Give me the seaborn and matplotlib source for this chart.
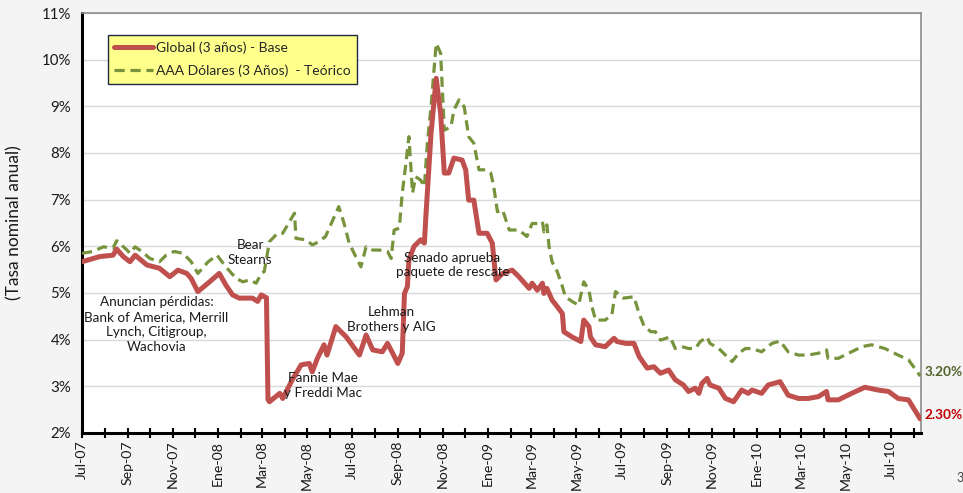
import matplotlib
matplotlib.use("Agg")
import matplotlib.pyplot as plt
import matplotlib.dates as mdates
from matplotlib.ticker import FuncFormatter, MultipleLocator
import pandas as pd
import seaborn as sns

# ---------------- data ----------------
global_dates = [
    "2007-07-01", "2007-07-25", "2007-08-12", "2007-08-17", "2007-08-26", "2007-09-04", "2007-09-11",
    "2007-09-27", "2007-10-14", "2007-10-28", "2007-11-08", "2007-11-20", "2007-11-26", "2007-12-05",
    "2007-12-21", "2008-01-03", "2008-01-12", "2008-01-21", "2008-01-30", "2008-02-17", "2008-02-24",
    "2008-02-29", "2008-03-04", "2008-03-07", "2008-03-09", "2008-03-11", "2008-03-25", "2008-03-29",
    "2008-04-11", "2008-04-23", "2008-05-04", "2008-05-08", "2008-05-15", "2008-05-24", "2008-05-28",
    "2008-06-09", "2008-06-23", "2008-07-11", "2008-07-20", "2008-07-29", "2008-08-11", "2008-08-18",
    "2008-08-25", "2008-09-01", "2008-09-07", "2008-09-10", "2008-09-14", "2008-09-16", "2008-09-23",
    "2008-10-02", "2008-10-07", "2008-10-09", "2008-10-16", "2008-10-23", "2008-10-29", "2008-11-03",
    "2008-11-09", "2008-11-16", "2008-11-27", "2008-12-02", "2008-12-06", "2008-12-13", "2008-12-20",
    "2008-12-31", "2009-01-07", "2009-01-12", "2009-01-21", "2009-02-03", "2009-02-12", "2009-02-26",
    "2009-03-02", "2009-03-09", "2009-03-16", "2009-03-18", "2009-03-22", "2009-03-29", "2009-04-05",
    "2009-04-12", "2009-04-14", "2009-04-25", "2009-05-07", "2009-05-11", "2009-05-18", "2009-05-20",
    "2009-05-27", "2009-06-09", "2009-06-21", "2009-06-25", "2009-07-07", "2009-07-18", "2009-07-25",
    "2009-08-05", "2009-08-14", "2009-08-23", "2009-09-03", "2009-09-12", "2009-09-23", "2009-09-30",
    "2009-10-09", "2009-10-14", "2009-10-18", "2009-10-25", "2009-10-29", "2009-11-10", "2009-11-19",
    "2009-11-30", "2009-12-11", "2009-12-20", "2009-12-25", "2010-01-07", "2010-01-16", "2010-02-01",
    "2010-02-12", "2010-02-26", "2010-03-11", "2010-03-25", "2010-04-05", "2010-04-07", "2010-04-21",
    "2010-04-30", "2010-05-09", "2010-05-27", "2010-06-14", "2010-06-28", "2010-07-11", "2010-07-25",
    "2010-08-10",
]
global_vals = [
    5.67, 5.78, 5.81, 5.94, 5.78, 5.67, 5.81,
    5.60, 5.53, 5.35, 5.49, 5.42, 5.31, 5.03,
    5.24, 5.42, 5.17, 4.96, 4.89, 4.89, 4.82,
    4.96, 4.92, 4.90, 2.72, 2.67, 2.85, 2.74,
    3.14, 3.46, 3.49, 3.31, 3.60, 3.89, 3.67,
    4.28, 4.06, 3.67, 4.10, 3.78, 3.74, 3.92,
    3.71, 3.49, 3.71, 4.99, 5.14, 5.71, 6.00,
    6.14, 6.07, 6.64, 8.42, 9.60, 8.85, 7.57,
    7.57, 7.89, 7.85, 7.64, 6.99, 6.99, 6.28,
    6.28, 6.07, 5.28, 5.42, 5.49, 5.35, 5.10,
    5.21, 5.06, 5.21, 4.99, 5.10, 4.85, 4.71,
    4.56, 4.17, 4.06, 3.96, 4.42, 4.28, 4.06,
    3.89, 3.85, 4.03, 3.96, 3.92, 3.92, 3.64,
    3.39, 3.42, 3.28, 3.35, 3.14, 3.03, 2.89,
    2.96, 2.85, 3.06, 3.17, 3.03, 2.96, 2.74,
    2.67, 2.92, 2.85, 2.92, 2.85, 3.03, 3.10,
    2.81, 2.74, 2.74, 2.78, 2.89, 2.71, 2.71,
    2.78, 2.85, 2.98, 2.92, 2.89, 2.74, 2.71,
    2.30,
]

aaa_dates = [
    "2007-07-01", "2007-07-16", "2007-07-30", "2007-08-12", "2007-08-17", "2007-08-31", "2007-09-04",
    "2007-09-11", "2007-09-20", "2007-10-01", "2007-10-14", "2007-10-23", "2007-11-03", "2007-11-15",
    "2007-11-26", "2007-12-05", "2007-12-19", "2007-12-31", "2008-01-12", "2008-01-26", "2008-02-04",
    "2008-02-13", "2008-02-22", "2008-02-29", "2008-03-04", "2008-03-11", "2008-03-22", "2008-03-29",
    "2008-04-14", "2008-04-16", "2008-04-30", "2008-05-08", "2008-05-17", "2008-05-26", "2008-05-31",
    "2008-06-13", "2008-06-20", "2008-06-27", "2008-07-06", "2008-07-13", "2008-07-20", "2008-07-29",
    "2008-08-07", "2008-08-18", "2008-08-23", "2008-08-27", "2008-09-03", "2008-09-07", "2008-09-12",
    "2008-09-16", "2008-09-21", "2008-09-25", "2008-10-02", "2008-10-07", "2008-10-11", "2008-10-16",
    "2008-10-23", "2008-10-29", "2008-11-03", "2008-11-12", "2008-11-16", "2008-11-23", "2008-11-30",
    "2008-12-06", "2008-12-13", "2008-12-20", "2008-12-29", "2009-01-05", "2009-01-09", "2009-01-14",
    "2009-01-21", "2009-01-30", "2009-02-12", "2009-02-23", "2009-03-02", "2009-03-11", "2009-03-16",
    "2009-03-18", "2009-03-22", "2009-03-25", "2009-03-29", "2009-04-05", "2009-04-12", "2009-04-16",
    "2009-04-25", "2009-05-04", "2009-05-11", "2009-05-18", "2009-05-22", "2009-05-27", "2009-06-09",
    "2009-06-18", "2009-06-23", "2009-07-04", "2009-07-18", "2009-07-25", "2009-08-01", "2009-08-10",
    "2009-08-16", "2009-08-23", "2009-09-05", "2009-09-12", "2009-09-21", "2009-09-30", "2009-10-09",
    "2009-10-16", "2009-10-25", "2009-10-29", "2009-11-10", "2009-11-21", "2009-11-28", "2009-12-07",
    "2009-12-16", "2009-12-25", "2010-01-07", "2010-01-21", "2010-02-01", "2010-02-12", "2010-02-26",
    "2010-03-11", "2010-03-25", "2010-04-05", "2010-04-07", "2010-04-21", "2010-05-05", "2010-05-23",
    "2010-06-05", "2010-06-23", "2010-07-11", "2010-07-25", "2010-08-10",
]
aaa_vals = [
    5.85, 5.89, 5.99, 5.96, 6.12, 5.92, 5.85,
    5.99, 5.89, 5.74, 5.67, 5.81, 5.89, 5.85,
    5.67, 5.42, 5.67, 5.81, 5.56, 5.31, 5.24,
    5.28, 5.21, 5.42, 5.46, 6.10, 6.28, 6.28,
    6.71, 6.17, 6.14, 6.03, 6.10, 6.21, 6.39,
    6.85, 6.50, 6.07, 5.78, 5.56, 5.99, 5.92,
    5.92, 5.89, 5.74, 6.35, 6.39, 7.14, 7.78,
    8.35, 7.14, 7.49, 7.42, 7.28, 8.21, 8.99,
    10.35, 10.14, 8.49, 8.56, 8.92, 9.14, 8.99,
    8.35, 8.21, 7.64, 7.64, 7.57, 7.28, 6.74,
    6.78, 6.35, 6.35, 6.21, 6.49, 6.49, 6.53,
    6.31, 6.46, 5.99, 5.67, 5.46, 5.14, 4.92,
    4.82, 4.74, 5.24, 5.06, 4.71, 4.42, 4.42,
    4.53, 5.03, 4.89, 4.92, 4.56, 4.28, 4.17,
    4.17, 3.99, 4.06, 3.81, 3.85, 3.81, 3.81,
    3.96, 4.06, 3.92, 3.81, 3.64, 3.53, 3.71,
    3.81, 3.81, 3.74, 3.92, 3.97, 3.74, 3.67,
    3.67, 3.71, 3.78, 3.60, 3.60, 3.71, 3.85,
    3.89, 3.81, 3.67, 3.57, 3.22,
]

series_names = ["Global (3 años) - Base", "AAA Dólares (3 Años)  - Teórico"]
end_labels = ["2.30%", "3.20%"]
tick_labels = ["Jul-07", "Sep-07", "Nov-07", "Ene-08", "Mar-08", "May-08", "Jul-08", "Sep-08",
               "Nov-08", "Ene-09", "Mar-09", "May-09", "Jul-09", "Sep-09", "Nov-09", "Ene-10",
               "Mar-10", "May-10", "Jul-10"]
events = [
    ("2007-10-10", 4.33, "Anuncian pérdidas:\nBank of America, Merrill\nLynch, Citigroup,\nWachovia"),
    ("2008-02-14", 5.86, "Bear\nStearns"),
    ("2008-05-22", 3.01, "Fannie Mae\ny Freddi Mac"),
    ("2008-08-23", 4.44, "Lehman\nBrothers y AIG"),
    ("2008-11-14", 5.60, "Senado aprueba\npaquete de rescate"),
]

# ---------------- plot ----------------
sns.set_theme(style="white")
plt.rcParams["font.family"] = ["Lato", "DejaVu Sans"]

RED = "#c0504d"
GREEN = "#77933c"

fig = plt.figure(figsize=(9.63, 4.93), dpi=100, facecolor="#f4f4f4")
ax = fig.add_axes([82 / 963, 60 / 493, 839 / 963, 420 / 493])
ax.set_facecolor("white")

df_g = pd.DataFrame({"fecha": pd.to_datetime(global_dates), "tasa": global_vals})
df_a = pd.DataFrame({"fecha": pd.to_datetime(aaa_dates), "tasa": aaa_vals})

sns.lineplot(data=df_a, x="fecha", y="tasa", ax=ax, color=GREEN, lw=2.3,
             label=series_names[1], zorder=3)
sns.lineplot(data=df_g, x="fecha", y="tasa", ax=ax, color=RED, lw=3.6,
             label=series_names[0], zorder=4)
ax.lines[0].set_linestyle((0, (3.2, 1.8)))

ax.set_ylim(2, 11)
ax.set_xlim(pd.Timestamp("2007-07-01"), pd.Timestamp("2010-08-11"))
ax.yaxis.set_major_locator(MultipleLocator(1))
ax.yaxis.set_major_formatter(FuncFormatter(lambda v, p: f"{v:.0f}%"))
ax.grid(axis="y", color="#d9d9d9", lw=1)
ax.set_axisbelow(True)

major = pd.date_range("2007-07-01", "2010-07-01", freq="2MS")
ax.set_xticks(major)
ax.set_xticklabels(tick_labels, rotation=90, fontsize=10.2, color="#1a1a1a")
ax.xaxis.set_minor_locator(mdates.MonthLocator())
ax.tick_params(axis="x", which="both", direction="inout", length=7, width=1.5,
               color="black", bottom=True, pad=2)
ax.tick_params(axis="y", length=0, labelsize=10.8, pad=8, labelcolor="#1a1a1a")
ax.set_xlabel("")
ax.set_ylabel("(Tasa nominal anual)", fontsize=12.5, labelpad=14, color="#1a1a1a")

for side in ["left", "bottom"]:
    ax.spines[side].set_color("black")
    ax.spines[side].set_linewidth(2.2)
for side in ["top", "right"]:
    ax.spines[side].set_color("#8c8c8c")
    ax.spines[side].set_linewidth(1.2)

for d, v, txt in events:
    ax.text(pd.Timestamp(d), v, txt, ha="center", va="center", fontsize=9.7,
            color="#1a1a1a", linespacing=1.3, zorder=5)

ax.annotate(end_labels[0], xy=(1.0, (global_vals[-1] - 2) / 9), xycoords="axes fraction",
            xytext=(2.5, 3), textcoords="offset points", ha="left", va="center",
            fontsize=9.8, fontweight="bold", color="#c00000")
ax.annotate(end_labels[1], xy=(1.0, (aaa_vals[-1] - 2) / 9), xycoords="axes fraction",
            xytext=(2.5, 3), textcoords="offset points", ha="left", va="center",
            fontsize=9.8, fontweight="bold", color="#4f6228")

handles, labels = ax.get_legend_handles_labels()
leg = ax.legend(handles[::-1], labels[::-1], loc="upper left",
                bbox_to_anchor=(0.031, 0.948), fontsize=10, frameon=True, fancybox=False,
                handlelength=2.8, handletextpad=0.2, borderpad=0.45, labelspacing=0.8,
                borderaxespad=0)
leg.get_frame().set_facecolor("#ffff8c")
leg.get_frame().set_edgecolor("#1f2a44")
leg.get_frame().set_linewidth(1.0)
leg.get_frame().set_alpha(1)

fig.text(0.993, 0.03, "3", fontsize=9, color="#404040", ha="left", va="center")

fig.savefig("out.png", dpi=100, facecolor=fig.get_facecolor())
